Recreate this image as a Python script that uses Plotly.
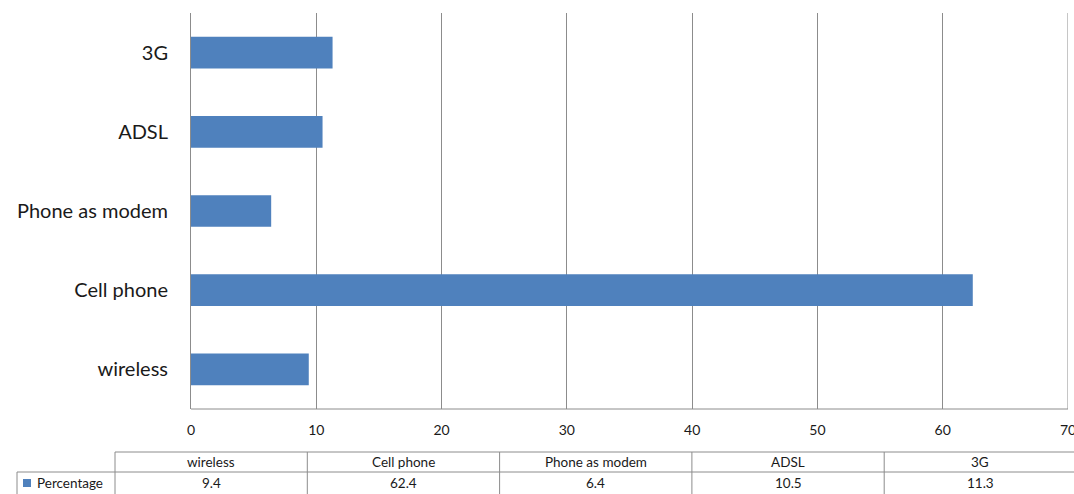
import plotly.graph_objects as go

# Internet access methods, share of respondents (%)
categories = ["wireless", "Cell phone", "Phone as modem", "ADSL", "3G"]
percentage = [9.4, 62.4, 6.4, 10.5, 11.3]
series_name = "Percentage"
x_ticks = [0, 10, 20, 30, 40, 50, 60, 70]

W, H = 1074, 494
L, R, T, B = 191, 6, 13, 85
plot_w = W - L - R
plot_h = H - T - B

BAR = "#4F81BD"
GRID = "#8C8C8C"
FONT = "Lato"
TXT = "#1a1a1a"


def px(x):
    return (x - L) / plot_w


def py(y):
    return (H - B - y) / plot_h


fig = go.Figure()
fig.add_trace(go.Bar(
    y=categories, x=percentage, orientation="h",
    marker=dict(color=BAR, line=dict(width=0)),
    name=series_name, showlegend=False,
))

fig.update_layout(
    width=W, height=H,
    margin=dict(l=L, r=R, t=T, b=B, pad=0, autoexpand=False),
    paper_bgcolor="white", plot_bgcolor="white",
    bargap=0.6,
    font=dict(family=FONT, color=TXT),
    xaxis=dict(
        range=[0, 70], tickvals=x_ticks, showgrid=True, gridcolor=GRID,
        gridwidth=1, zeroline=False, showline=False, ticks="",
        tickfont=dict(size=14, color=TXT), ticklabelstandoff=11,
        ticklabeloverflow="allow", automargin=False,
    ),
    yaxis=dict(
        categoryorder="array", categoryarray=categories,
        showgrid=False, zeroline=False, showline=True, linecolor=GRID,
        linewidth=1, ticks="", tickfont=dict(size=20, color=TXT),
        ticklabelstandoff=18, automargin=False,
    ),
)

# bottom axis line and the gridline at the upper end of the range
fig.add_shape(type="line", xref="paper", yref="paper", x0=0, x1=1, y0=0, y1=0,
              line=dict(color=GRID, width=1))
fig.add_shape(type="line", xref="x", yref="paper", x0=x_ticks[-1], x1=x_ticks[-1],
              y0=0, y1=1, line=dict(color=GRID, width=1))

# data table below the axis
col_edges = [115 + i * 192.3 for i in range(len(categories) + 1)]
row_top, row_mid, row_bot = 452, 472, 496
line = dict(color=GRID, width=1)
fig.add_shape(type="line", xref="paper", yref="paper",
              x0=px(col_edges[0]), x1=px(W + 5), y0=py(row_top), y1=py(row_top), line=line)
fig.add_shape(type="line", xref="paper", yref="paper",
              x0=px(17), x1=px(W + 5), y0=py(row_mid), y1=py(row_mid), line=line)
fig.add_shape(type="line", xref="paper", yref="paper",
              x0=px(17), x1=px(17), y0=py(row_mid), y1=py(row_bot), line=line)
for xe in col_edges:
    fig.add_shape(type="line", xref="paper", yref="paper",
                  x0=px(xe), x1=px(xe), y0=py(row_top), y1=py(row_bot), line=line)

TABLE_FONT = dict(size=13.5, color=TXT)
for i, (cat, val) in enumerate(zip(categories, percentage)):
    cx = px((col_edges[i] + col_edges[i + 1]) / 2)
    fig.add_annotation(x=cx, y=py((row_top + row_mid) / 2), xref="paper", yref="paper",
                       text=cat, showarrow=False, font=TABLE_FONT,
                       xanchor="center", yanchor="middle")
    fig.add_annotation(x=cx, y=py((row_mid + 494) / 2), xref="paper", yref="paper",
                       text=f"{val}", showarrow=False, font=TABLE_FONT,
                       xanchor="center", yanchor="middle")

# legend key in the table's row header
fig.add_shape(type="rect", xref="paper", yref="paper",
              x0=px(23), x1=px(31), y0=py(487), y1=py(479),
              fillcolor=BAR, line=dict(width=0))
fig.add_annotation(x=px(35), y=py(483), xref="paper", yref="paper",
                   text=series_name, showarrow=False, font=TABLE_FONT,
                   xanchor="left", yanchor="middle")

fig.write_html("out.html")
